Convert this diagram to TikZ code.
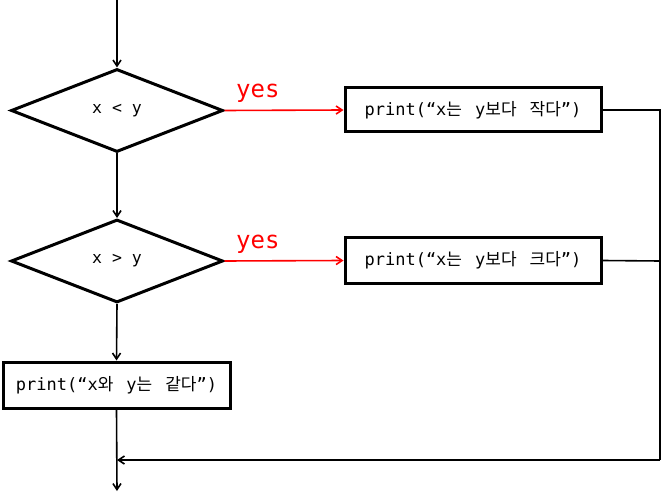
\documentclass[tikz,border=0pt]{standalone}
\usepackage{fontspec}
\setmonofont{DejaVu Sans Mono}
\newfontfamily\kr{Noto Sans CJK KR}
\newcommand{\ksp}{\hspace{13pt}}
\usetikzlibrary{shapes.geometric,arrows.meta}
\begin{document}
\begin{tikzpicture}[x=1pt,y=-1pt,
  dec/.style={draw,shape=diamond,line width=3pt,minimum width=212pt,minimum height=83pt,inner sep=0pt,font=\ttfamily\fontsize{16.5}{19}\selectfont},
  pbox/.style={draw,rectangle,line width=3pt,inner sep=0pt,font=\ttfamily\fontsize{17}{20}\selectfont},
  conn/.style={line width=1.6pt,-{Straight Barb[length=6pt,width=8pt]}},
  line/.style={line width=1.6pt},
  yesc/.style={line width=1.6pt,red,-{Straight Barb[length=6pt,width=8pt]}},
  yeslab/.style={red,font=\ttfamily\fontsize{24}{28}\selectfont,inner sep=0pt}]
\useasboundingbox (0,0) rectangle (662,500);
\node[dec] (d1) at (117,110.5) {x < y};
\node[dec] (d2) at (117,261) {x > y};
\node[pbox,minimum width=256pt,minimum height=44pt] (b1) at (473,110) {print(“x{\kr 는}\ksp y{\kr 보다}\ksp{\kr 작다}”)};
\node[pbox,minimum width=256pt,minimum height=45pt] (b2) at (473,260.5) {print(“x{\kr 는}\ksp y{\kr 보다}\ksp{\kr 크다}”)};
\node[pbox,minimum width=227pt,minimum height=46pt] (b3) at (116.5,385) {print(“x{\kr 와}\ksp y{\kr 는}\ksp{\kr 같다}”)};
\coordinate (start) at (117,0);
\coordinate (r1) at (660,110);
\coordinate (r2) at (660,261);
\coordinate (r3) at (660,460);
\coordinate (j) at (117,460);
\coordinate (end) at (117,491);
\draw[conn] (start) -- (d1.north);
\draw[conn] (d1.south) -- (d2.north);
\draw[conn] (d2.south) -- (b3.north);
\draw[conn] (b3.south) -- (end);
\draw[yesc] (d1.east) -- (b1.west);
\draw[yesc] (d2.east) -- (b2.west);
\node[yeslab,anchor=base west] (y1) at (236,98) {yes};
\node[yeslab,anchor=base west] (y2) at (236,248) {yes};
\draw[line] (b1.east) -- (r1) -- (r3);
\draw[line] (b2.east) -- (r2);
\draw[conn] (r3) -- (j);
\end{tikzpicture}
\end{document}
